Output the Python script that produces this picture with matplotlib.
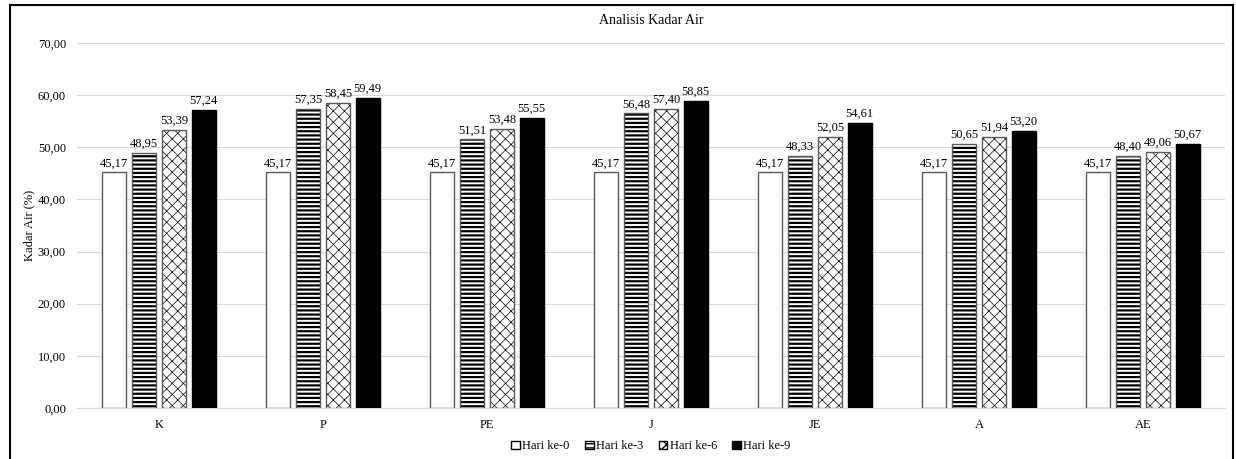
import numpy as np
import matplotlib
matplotlib.use("Agg")
from matplotlib import pyplot as plt
from matplotlib.patches import Rectangle

plt.rcParams['font.family'] = ['Liberation Serif', 'DejaVu Serif']

categories = ["K", "P", "PE", "J", "JE", "A", "AE"]
series = ["Hari ke-0", "Hari ke-3", "Hari ke-6", "Hari ke-9"]
hari0 = [45.17, 45.17, 45.17, 45.17, 45.17, 45.17, 45.17]
hari3 = [48.95, 57.35, 51.51, 56.48, 48.33, 50.65, 48.40]
hari6 = [53.39, 58.45, 53.48, 57.40, 52.05, 51.94, 49.06]
hari9 = [57.24, 59.49, 55.55, 58.85, 54.61, 53.20, 50.67]

values = [hari0, hari3, hari6, hari9]
faces = ["white", "white", "white", "black"]
hatches = [None, "----", "xxx", None]
hatch_lw = [0.6, 1.6, 0.5, 0.6]

W, H = 1236, 459
fig = plt.figure(figsize=(W / 100, H / 100), dpi=100)
ax = fig.add_axes([77 / W, 1 - 408 / H, (1225 - 77) / W, (408 - 43) / H])

x = np.arange(len(categories))
w = 0.145
pitch = 0.182
for i, vals in enumerate(values):
    pos = x + (i - 1.5) * pitch
    # hatch in black, outline drawn on top in grey
    with plt.rc_context({'hatch.linewidth': hatch_lw[i]}):
        bars = ax.bar(pos, vals, w, color=faces[i], edgecolor="black",
                      hatch=hatches[i], linewidth=0 if i < 3 else 1.0,
                      label=series[i], zorder=3)
    for b in bars:
        if hasattr(b, "set_hatch_linewidth"):
            b.set_hatch_linewidth(hatch_lw[i])
    if i < 3:
        ax.bar(pos, vals, w, fill=False, edgecolor="#595959", linewidth=1.0, zorder=4)
    for p, v in zip(pos, vals):
        ax.text(p, v + 0.6, f"{v:.2f}".replace(".", ","), ha="center", va="bottom",
                fontsize=9)

ax.set_ylim(0, 70)
ax.set_xlim(-0.5, len(categories) - 0.5)
ax.set_yticks(np.arange(0, 71, 10))
ax.set_yticklabels([f"{t:.2f}".replace(".", ",") for t in np.arange(0, 71, 10)], fontsize=9)
ax.set_xticks(x)
ax.set_xticklabels(categories, fontsize=9)
ax.tick_params(length=0, pad=8)
ax.yaxis.grid(True, color="#d9d9d9", linewidth=0.8, zorder=0)
for s in ["top", "right", "left"]:
    ax.spines[s].set_visible(False)
ax.spines["bottom"].set_color("#d9d9d9")
ax.set_ylabel("Kadar Air (%)", fontsize=9, labelpad=2)
ax.set_title("Analisis Kadar Air", fontsize=10, pad=14)

handles, labels = ax.get_legend_handles_labels()
leg = ax.legend(handles, labels, loc="center", bbox_to_anchor=(0.5, -0.105), ncol=4,
                frameon=False, fontsize=9, handlelength=0.7, handleheight=0.7,
                handletextpad=0.2, columnspacing=1.2)
for h in leg.get_patches():
    h.set_linewidth(1.0)
    h.set_edgecolor("black")

fig.patches.append(Rectangle((10 / W, -0.05), (1233 - 10) / W, 1 - 5 / H + 0.05,
                             transform=fig.transFigure, fill=False,
                             edgecolor="black", linewidth=1.5))

fig.savefig("out.png", dpi=100)
